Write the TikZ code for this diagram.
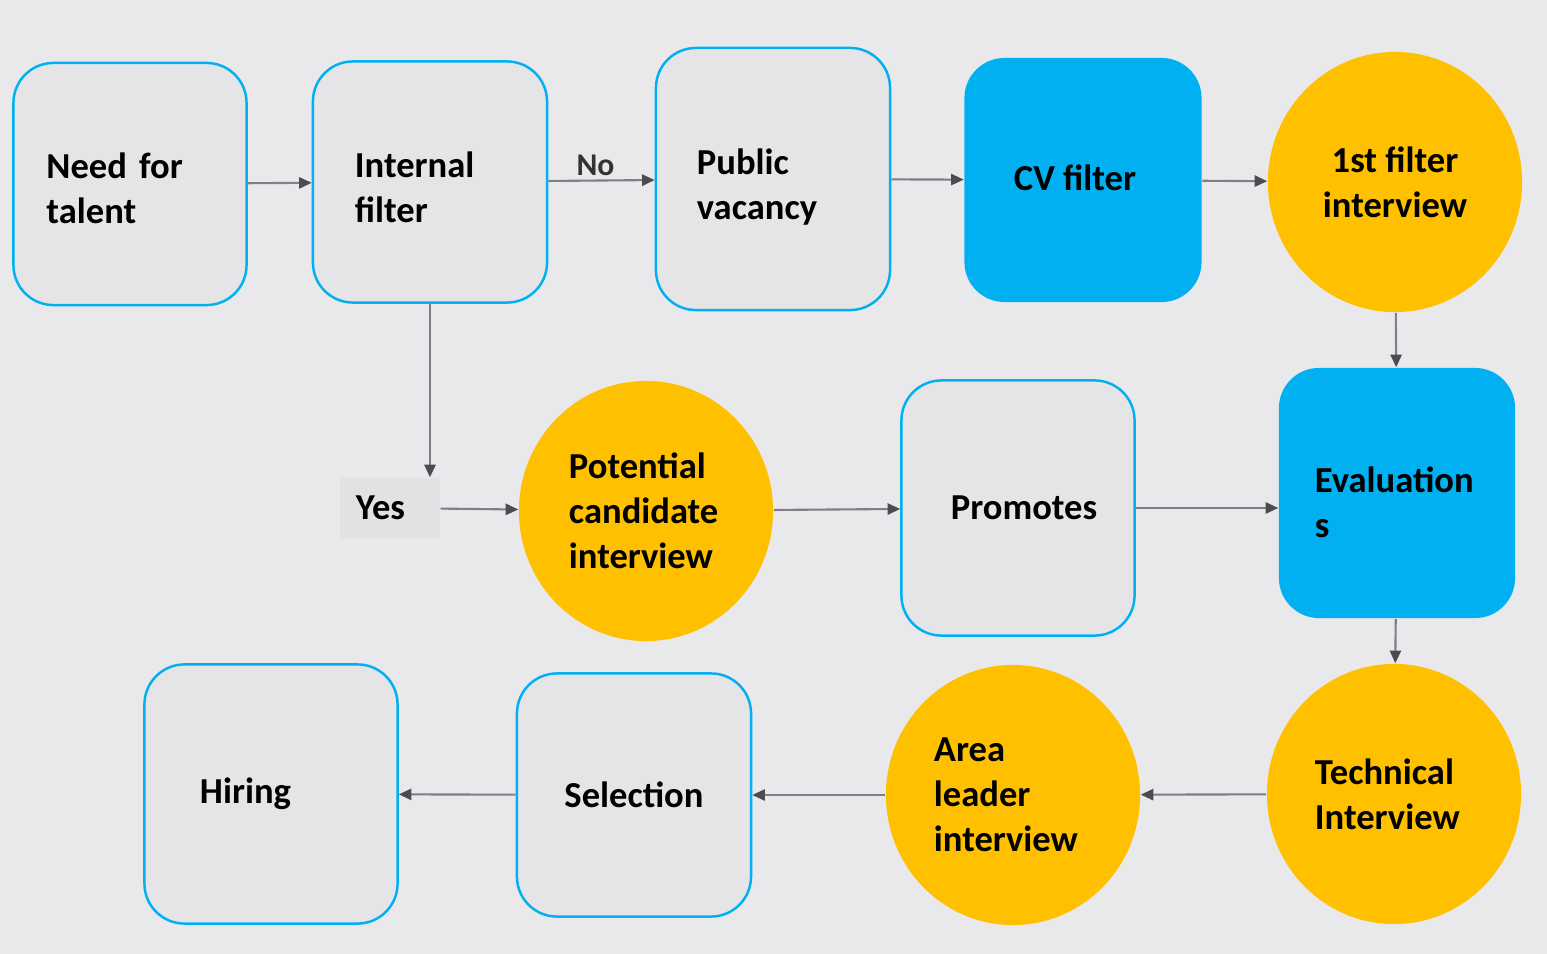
\documentclass[tikz,border=0pt]{standalone}
\usepackage{fontspec}
\setmainfont{Carlito}
\usetikzlibrary{arrows.meta,shapes.geometric}
\definecolor{bgcol}{RGB}{233,233,236}
\definecolor{boxfill}{RGB}{229,229,232}
\definecolor{yesfill}{RGB}{226,226,228}
\definecolor{boxline}{RGB}{0,176,240}
\definecolor{cvblue}{RGB}{0,176,240}
\definecolor{amber}{RGB}{255,192,0}
\definecolor{arrowgrey}{RGB}{128,128,132}
\definecolor{tipgrey}{RGB}{75,75,80}

\begin{document}
\begin{tikzpicture}[x=0.01cm, y=-0.01cm,
    every node/.style={font=\fontsize{10.4pt}{12.8pt}\selectfont\bfseries, inner sep=0pt},
    box/.style={draw=boxline, line width=0.7pt, fill=boxfill, rounded corners=0.4cm, align=left},
    bluebox/.style={fill=cvblue, rounded corners=0.4cm, align=left},
    disc/.style={ellipse, fill=amber, align=left, minimum width=2.54cm, minimum height=2.6cm},
    flow/.style={draw=arrowgrey, line width=0.6pt, -{Triangle[length=3.6pt,width=3.2pt,color=tipgrey]}}]
    \fill[bgcol] (0,0) rectangle (1547,954);
    \useasboundingbox (0,0) rectangle (1547,954);

    % top row
    \node[box, minimum width=2.33cm, minimum height=2.42cm,
      label={[align=left, text width=1.67cm, yshift=-0.045cm]center:{Need for\\talent}}] (need) at (130,184) {};
    \node[box, minimum width=2.34cm, minimum height=2.41cm,
      label={[align=left, text width=1.50cm, yshift=-0.055cm]center:{Internal\\filter}}] (internal) at (430,182) {};
    \node[box, minimum width=2.34cm, minimum height=2.62cm,
      label={[align=left, text width=1.52cm, yshift=-0.085cm]center:{Public\\vacancy}}] (public) at (773,179) {};
    \node[bluebox, minimum width=2.37cm, minimum height=2.44cm,
      label={[xshift=-0.08cm, yshift=0.02cm]center:CV filter}] (cv) at (1083,180) {};
    \node[disc, align=center] (first) at (1395,182) {1st filter\\interview};

    % middle row
    \node[fill=yesfill, minimum width=1.0cm, minimum height=0.6cm, text width=0.68cm, align=left] (yes) at (390,508) {Yes};
    \node[disc, text width=1.54cm] (potential) at (646,511) {Potential\\candidate\\interview};
    \node[box, minimum width=2.33cm, minimum height=2.55cm,
      label={[xshift=0.06cm]center:Promotes}] (promotes) at (1018,508) {};
    \node[bluebox, minimum width=2.36cm, minimum height=2.5cm,
      label={[align=left, text width=1.64cm, yshift=-0.09cm]center:{Evaluation\\s}}] (eval) at (1397,493) {};

    % bottom row
    \node[disc, text width=1.58cm] (technical) at (1394,794) {Technical\\Interview};
    \node[disc, text width=1.58cm] (area) at (1013,795) {Area\\leader\\interview};
    \node[box, minimum width=2.34cm, minimum height=2.43cm, align=center] (selection) at (634,795) {Selection};
    \node[box, minimum width=2.53cm, minimum height=2.59cm, text width=1.42cm] (hiring) at (271,794) {Hiring};

    \draw[flow] (need) -- (internal);
    \draw[flow] (internal) -- node[above=1pt, xshift=-0.06cm, font=\fontsize{9pt}{11pt}\selectfont\bfseries, text=black!80] {No} (public);
    \draw[flow] (public) -- (cv);
    \draw[flow] (cv) -- (first);
    \draw[flow] (first) -- (eval);
    \draw[flow] (internal) -- (yes.north -| internal);
    \draw[flow] (yes) -- (potential);
    \draw[flow] (potential) -- (promotes);
    \draw[flow] (promotes) -- (promotes -| eval.west);
    \draw[flow] (eval) -- (technical);
    \draw[flow] (technical) -- (area);
    \draw[flow] (area) -- (selection);
    \draw[flow] (selection) -- (hiring);
\end{tikzpicture}
\end{document}
